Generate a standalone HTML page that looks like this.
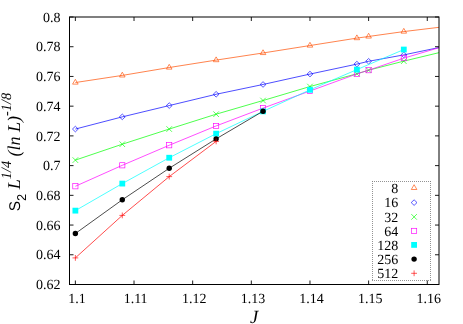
<!DOCTYPE html>
<html><head><meta charset="utf-8"><title>plot</title>
<style>
html,body{margin:0;padding:0;background:#fff;}
body{width:463px;height:324px;overflow:hidden;}
svg{display:block;will-change:transform;}
text{font-family:"Liberation Serif",serif;fill:#000;text-rendering:geometricPrecision;}
.t{font-size:14px;}
.sans{font-family:"Liberation Sans",sans-serif;}
</style></head><body>
<svg width="463" height="324" viewBox="0 0 463 324">
<rect x="0" y="0" width="463" height="324" fill="#fff"/>
<defs><clipPath id="c"><rect x="69.50" y="17.00" width="369.50" height="267.50"/></clipPath></defs>

<g clip-path="url(#c)"><path d="M75.37 82.54L122.29 75.41L169.21 67.53L216.13 60.10L263.04 52.97L309.96 45.54L356.88 38.10L368.61 36.47L403.80 31.57L450.72 25.92" fill="none" stroke="#ff4d00" stroke-width="0.7"/></g>
<path d="M72.57 84.14L78.17 84.14L75.37 79.34Z" fill="none" stroke="#ff4d00" stroke-width="0.65"/>
<path d="M119.49 77.01L125.09 77.01L122.29 72.21Z" fill="none" stroke="#ff4d00" stroke-width="0.65"/>
<path d="M166.41 69.13L172.01 69.13L169.21 64.33Z" fill="none" stroke="#ff4d00" stroke-width="0.65"/>
<path d="M213.33 61.70L218.93 61.70L216.13 56.90Z" fill="none" stroke="#ff4d00" stroke-width="0.65"/>
<path d="M260.24 54.57L265.84 54.57L263.04 49.77Z" fill="none" stroke="#ff4d00" stroke-width="0.65"/>
<path d="M307.16 47.14L312.76 47.14L309.96 42.34Z" fill="none" stroke="#ff4d00" stroke-width="0.65"/>
<path d="M354.08 39.70L359.68 39.70L356.88 34.90Z" fill="none" stroke="#ff4d00" stroke-width="0.65"/>
<path d="M365.81 38.07L371.41 38.07L368.61 33.27Z" fill="none" stroke="#ff4d00" stroke-width="0.65"/>
<path d="M401.00 33.17L406.60 33.17L403.80 28.37Z" fill="none" stroke="#ff4d00" stroke-width="0.65"/>
<g clip-path="url(#c)"><path d="M75.37 129.05L122.29 116.87L169.21 105.57L216.13 94.28L263.04 84.47L309.96 74.07L356.88 64.11L368.61 61.29L403.80 54.90L450.72 45.09" fill="none" stroke="#0000ff" stroke-width="0.7"/></g>
<path d="M72.47 129.05L75.37 126.25L78.27 129.05L75.37 131.85Z" fill="none" stroke="#0000ff" stroke-width="0.65"/>
<path d="M119.39 116.87L122.29 114.07L125.19 116.87L122.29 119.67Z" fill="none" stroke="#0000ff" stroke-width="0.65"/>
<path d="M166.31 105.57L169.21 102.77L172.11 105.57L169.21 108.37Z" fill="none" stroke="#0000ff" stroke-width="0.65"/>
<path d="M213.23 94.28L216.13 91.48L219.03 94.28L216.13 97.08Z" fill="none" stroke="#0000ff" stroke-width="0.65"/>
<path d="M260.14 84.47L263.04 81.67L265.94 84.47L263.04 87.27Z" fill="none" stroke="#0000ff" stroke-width="0.65"/>
<path d="M307.06 74.07L309.96 71.27L312.86 74.07L309.96 76.87Z" fill="none" stroke="#0000ff" stroke-width="0.65"/>
<path d="M353.98 64.11L356.88 61.31L359.78 64.11L356.88 66.91Z" fill="none" stroke="#0000ff" stroke-width="0.65"/>
<path d="M365.71 61.29L368.61 58.49L371.51 61.29L368.61 64.09Z" fill="none" stroke="#0000ff" stroke-width="0.65"/>
<path d="M400.90 54.90L403.80 52.10L406.70 54.90L403.80 57.70Z" fill="none" stroke="#0000ff" stroke-width="0.65"/>
<g clip-path="url(#c)"><path d="M75.37 160.11L122.29 144.21L169.21 129.05L216.13 114.19L263.04 100.52L309.96 86.55L356.88 73.77L368.61 70.20L403.80 61.14L450.72 49.84" fill="none" stroke="#00ff00" stroke-width="0.7"/></g>
<path d="M72.57 157.31L78.17 162.91M72.57 162.91L78.17 157.31" fill="none" stroke="#00ff00" stroke-width="0.65"/>
<path d="M119.49 141.41L125.09 147.01M119.49 147.01L125.09 141.41" fill="none" stroke="#00ff00" stroke-width="0.65"/>
<path d="M166.41 126.25L172.01 131.85M166.41 131.85L172.01 126.25" fill="none" stroke="#00ff00" stroke-width="0.65"/>
<path d="M213.33 111.39L218.93 116.99M213.33 116.99L218.93 111.39" fill="none" stroke="#00ff00" stroke-width="0.65"/>
<path d="M260.24 97.72L265.84 103.32M260.24 103.32L265.84 97.72" fill="none" stroke="#00ff00" stroke-width="0.65"/>
<path d="M307.16 83.75L312.76 89.35M307.16 89.35L312.76 83.75" fill="none" stroke="#00ff00" stroke-width="0.65"/>
<path d="M354.08 70.97L359.68 76.57M354.08 76.57L359.68 70.97" fill="none" stroke="#00ff00" stroke-width="0.65"/>
<path d="M365.81 67.40L371.41 73.00M365.81 73.00L371.41 67.40" fill="none" stroke="#00ff00" stroke-width="0.65"/>
<path d="M401.00 58.34L406.60 63.94M401.00 63.94L406.60 58.34" fill="none" stroke="#00ff00" stroke-width="0.65"/>
<g clip-path="url(#c)"><path d="M75.37 186.27L122.29 165.31L169.21 145.25L216.13 125.93L263.04 108.10L309.96 91.01L356.88 73.92L368.61 70.20L403.80 58.17L450.72 44.20" fill="none" stroke="#ff00ff" stroke-width="0.7"/></g>
<rect x="72.77" y="183.67" width="5.2" height="5.2" fill="none" stroke="#ff00ff" stroke-width="0.65"/>
<rect x="119.69" y="162.71" width="5.2" height="5.2" fill="none" stroke="#ff00ff" stroke-width="0.65"/>
<rect x="166.61" y="142.65" width="5.2" height="5.2" fill="none" stroke="#ff00ff" stroke-width="0.65"/>
<rect x="213.53" y="123.33" width="5.2" height="5.2" fill="none" stroke="#ff00ff" stroke-width="0.65"/>
<rect x="260.44" y="105.50" width="5.2" height="5.2" fill="none" stroke="#ff00ff" stroke-width="0.65"/>
<rect x="307.36" y="88.41" width="5.2" height="5.2" fill="none" stroke="#ff00ff" stroke-width="0.65"/>
<rect x="354.28" y="71.32" width="5.2" height="5.2" fill="none" stroke="#ff00ff" stroke-width="0.65"/>
<rect x="366.01" y="67.60" width="5.2" height="5.2" fill="none" stroke="#ff00ff" stroke-width="0.65"/>
<rect x="401.20" y="55.57" width="5.2" height="5.2" fill="none" stroke="#ff00ff" stroke-width="0.65"/>
<g clip-path="url(#c)"><path d="M75.37 210.64L122.29 183.59L169.21 157.74L216.13 133.66L263.04 111.37L309.96 89.82L356.88 69.61L403.80 49.55" fill="none" stroke="#00ffff" stroke-width="0.7"/></g>
<rect x="72.47" y="207.74" width="5.8" height="5.8" fill="#00ffff"/>
<rect x="119.39" y="180.69" width="5.8" height="5.8" fill="#00ffff"/>
<rect x="166.31" y="154.84" width="5.8" height="5.8" fill="#00ffff"/>
<rect x="213.23" y="130.76" width="5.8" height="5.8" fill="#00ffff"/>
<rect x="260.14" y="108.47" width="5.8" height="5.8" fill="#00ffff"/>
<rect x="307.06" y="86.92" width="5.8" height="5.8" fill="#00ffff"/>
<rect x="353.98" y="66.71" width="5.8" height="5.8" fill="#00ffff"/>
<rect x="400.90" y="46.65" width="5.8" height="5.8" fill="#00ffff"/>
<g clip-path="url(#c)"><path d="M75.37 233.53L122.29 199.79L169.21 168.29L216.13 138.86L263.04 111.22" fill="none" stroke="#000000" stroke-width="0.7"/></g>
<circle cx="75.37" cy="233.53" r="2.7" fill="#000000"/>
<circle cx="122.29" cy="199.79" r="2.7" fill="#000000"/>
<circle cx="169.21" cy="168.29" r="2.7" fill="#000000"/>
<circle cx="216.13" cy="138.86" r="2.7" fill="#000000"/>
<circle cx="263.04" cy="111.22" r="2.7" fill="#000000"/>
<g clip-path="url(#c)"><path d="M75.37 257.90L122.29 215.40L169.21 176.61L216.13 141.39" fill="none" stroke="#ff0000" stroke-width="0.7"/></g>
<path d="M72.47 257.90L78.27 257.90M75.37 255.00L75.37 260.80" fill="none" stroke="#ff0000" stroke-width="0.65"/>
<path d="M119.39 215.40L125.19 215.40M122.29 212.50L122.29 218.30" fill="none" stroke="#ff0000" stroke-width="0.65"/>
<path d="M166.31 176.61L172.11 176.61M169.21 173.71L169.21 179.51" fill="none" stroke="#ff0000" stroke-width="0.65"/>
<path d="M213.23 141.39L219.03 141.39M216.13 138.49L216.13 144.29" fill="none" stroke="#ff0000" stroke-width="0.65"/>
<rect x="69.5" y="17.0" width="369.5" height="267.5" fill="none" stroke="#000" stroke-width="1"/>
<path d="M75.37 284.5V280.5M75.37 17.0V21.0M134.02 284.5V280.5M134.02 17.0V21.0M192.67 284.5V280.5M192.67 17.0V21.0M251.32 284.5V280.5M251.32 17.0V21.0M309.97 284.5V280.5M309.97 17.0V21.0M368.62 284.5V280.5M368.62 17.0V21.0M427.27 284.5V280.5M427.27 17.0V21.0M69.5 284.50H73.5M439.0 284.50H435.0M69.5 254.78H73.5M439.0 254.78H435.0M69.5 225.06H73.5M439.0 225.06H435.0M69.5 195.33H73.5M439.0 195.33H435.0M69.5 165.61H73.5M439.0 165.61H435.0M69.5 135.89H73.5M439.0 135.89H435.0M69.5 106.17H73.5M439.0 106.17H435.0M69.5 76.45H73.5M439.0 76.45H435.0M69.5 46.72H73.5M439.0 46.72H435.0M69.5 17.00H73.5M439.0 17.00H435.0" fill="none" stroke="#000" stroke-width="0.9"/>
<text class="t" x="60.5" y="289.20" text-anchor="end">0.62</text>
<text class="t" x="60.5" y="259.48" text-anchor="end">0.64</text>
<text class="t" x="60.5" y="229.76" text-anchor="end">0.66</text>
<text class="t" x="60.5" y="200.03" text-anchor="end">0.68</text>
<text class="t" x="60.5" y="170.31" text-anchor="end">0.7</text>
<text class="t" x="60.5" y="140.59" text-anchor="end">0.72</text>
<text class="t" x="60.5" y="110.87" text-anchor="end">0.74</text>
<text class="t" x="60.5" y="81.15" text-anchor="end">0.76</text>
<text class="t" x="60.5" y="51.42" text-anchor="end">0.78</text>
<text class="t" x="60.5" y="21.70" text-anchor="end">0.8</text>
<text class="t" x="76.97" y="303.25" text-anchor="middle">1.1</text>
<text class="t" x="135.62" y="303.25" text-anchor="middle">1.11</text>
<text class="t" x="194.27" y="303.25" text-anchor="middle">1.12</text>
<text class="t" x="252.92" y="303.25" text-anchor="middle">1.13</text>
<text class="t" x="311.57" y="303.25" text-anchor="middle">1.14</text>
<text class="t" x="370.22" y="303.25" text-anchor="middle">1.15</text>
<text class="t" x="428.87" y="303.25" text-anchor="middle">1.16</text>
<text x="254.2" y="323" text-anchor="middle" font-size="18.6" font-style="italic">J</text>
<g transform="translate(20.4 211.3) rotate(-90)"><text x="0" y="0" font-size="18"><tspan class="sans" font-size="15.5">S</tspan><tspan class="sans" font-size="12.8" dy="5.4">2</tspan><tspan dy="-5.4" font-style="italic"> L</tspan><tspan dy="-9.4" font-size="14.4" font-style="italic">1/4</tspan><tspan dy="9.4" font-style="italic"> (ln L)</tspan><tspan dy="-9.4" font-size="14.4" font-style="italic">-1/8</tspan></text></g>
<path d="M372 181.5H431M372 280.5H431M372.5 181V281M430.5 181V281" fill="none" stroke="#808080" stroke-width="0.85" stroke-dasharray="1 1"/>
<text class="t" x="398.2" y="192.50" text-anchor="end">8</text>
<path d="M411.30 189.50L416.90 189.50L414.10 184.70Z" fill="none" stroke="#ff4d00" stroke-width="0.65"/>
<text class="t" x="398.2" y="207.20" text-anchor="end">16</text>
<path d="M411.20 202.60L414.10 199.80L417.00 202.60L414.10 205.40Z" fill="none" stroke="#0000ff" stroke-width="0.65"/>
<text class="t" x="398.2" y="221.50" text-anchor="end">32</text>
<path d="M411.30 214.10L416.90 219.70M411.30 219.70L416.90 214.10" fill="none" stroke="#00ff00" stroke-width="0.65"/>
<text class="t" x="398.2" y="235.50" text-anchor="end">64</text>
<rect x="411.50" y="228.30" width="5.2" height="5.2" fill="none" stroke="#ff00ff" stroke-width="0.65"/>
<text class="t" x="398.2" y="249.50" text-anchor="end">128</text>
<rect x="411.20" y="242.00" width="5.8" height="5.8" fill="#00ffff"/>
<text class="t" x="398.2" y="263.70" text-anchor="end">256</text>
<circle cx="414.10" cy="259.10" r="2.7" fill="#000000"/>
<text class="t" x="398.2" y="277.90" text-anchor="end">512</text>
<path d="M411.20 273.30L417.00 273.30M414.10 270.40L414.10 276.20" fill="none" stroke="#ff0000" stroke-width="0.65"/>
</svg></body></html>
